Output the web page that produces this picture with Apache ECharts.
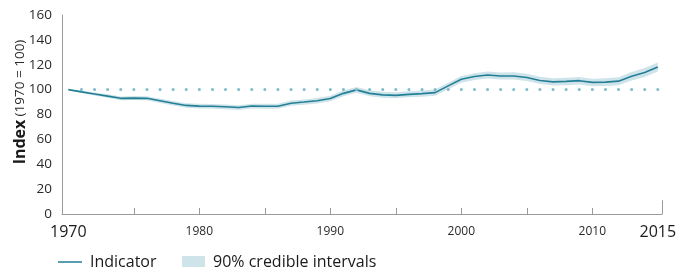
<!DOCTYPE html>
<html>
<head>
<meta charset="utf-8">
<script src="https://cdn.jsdelivr.net/npm/echarts@6/dist/echarts.min.js"></script>
<style>
html,body{margin:0;padding:0;background:#fff;}
#c{width:694px;height:267px;}
</style>
</head>
<body>
<div id="c"></div>
<script>
const years = [1970,1971,1972,1973,1974,1975,1976,1977,1978,1979,1980,1981,1982,1983,1984,1985,1986,1987,1988,1989,1990,1991,1992,1993,1994,1995,1996,1997,1998,1999,2000,2001,2002,2003,2004,2005,2006,2007,2008,2009,2010,2011,2012,2013,2014,2015];
const indicator = [100,98.2,96.5,94.8,93,93.2,93,91,89,87.3,86.7,86.6,86.2,85.6,86.8,86.6,86.6,89.1,90,91,92.8,97,99.8,97,95.8,95.4,96.2,96.8,97.6,103,108.3,110.5,111.8,111,111,109.8,107.4,106.2,106.6,107.2,105.8,106,106.8,110.7,113.7,118.2];
const ciLower = [100,97.2,95.3,93.4,91.5,91.6,91.4,89.3,87.2,85.5,84.8,84.7,84.3,83.7,84.9,84.6,84.6,87,87.9,88.8,90.6,94.7,97.4,94.6,93.4,93,93.8,94.3,95.1,100.4,105.6,107.8,109,108.2,108.1,106.9,104.5,103.3,103.6,104.2,102.8,102.9,103.6,107.3,110.1,114.5];
const ciUpper = [100,99.2,97.7,96.2,94.5,94.8,94.6,92.7,90.8,89.1,88.6,88.5,88.1,87.5,88.7,88.6,88.6,91.2,92.1,93.2,95,99.3,102.2,99.4,98.2,97.8,98.6,99.3,100.1,105.6,111,113.2,114.6,113.8,113.9,112.7,110.3,109.1,109.6,110.2,108.8,109.1,110,114.1,117.3,121.9];
const yTicks = [0,20,40,60,80,100,120,140,160];
const xLabelYears = [1970,1980,1990,2000,2010,2015];
const xTickYears = [1975,1980,1985,1990,1995,2000,2005,2010];
const refLevel = 100;
const legendNames = ['Indicator','90% credible intervals'];

const X_MIN = 1969.52, X_MAX = 2015.32;
const lineColor = '#237f96';
const bandColor = '#cfe4ea';
const fontFam = '"Open Sans","Noto Sans",sans-serif';

const chart = echarts.init(document.getElementById('c'), null, {renderer:'canvas'});
chart.setOption({
  animation:false,
  backgroundColor:'#fff',
  grid:{left:62,right:32,top:15,bottom:53,containLabel:false},
  xAxis:{
    type:'value', min:X_MIN, max:X_MAX,
    axisLine:{show:true,lineStyle:{color:'#9a9a9a',width:1}},
    axisTick:{show:true,inside:true,length:6,customValues:xTickYears,lineStyle:{color:'#9a9a9a'}},
    splitLine:{show:false},
    axisLabel:{
      customValues:xLabelYears, margin:10, fontFamily:fontFam,
      formatter:function(v){return (v===xLabelYears[0]||v===xLabelYears[xLabelYears.length-1])?'{big|'+v+'}':'{small|'+v+'}';},
      rich:{big:{fontSize:16,color:'#1a1a1a',fontFamily:fontFam},small:{fontSize:12,color:'#2a2a2a',fontFamily:fontFam,padding:[2,0,0,0]}}
    }
  },
  yAxis:{
    type:'value', min:0, max:160, interval:20,
    axisLine:{show:true,lineStyle:{color:'#9a9a9a',width:1}},
    axisTick:{show:false},
    splitLine:{show:false},
    axisLabel:{margin:10,fontSize:13.5,color:'#2a2a2a',fontFamily:fontFam,
      customValues:yTicks}
  },
  graphic:[
    {type:'text',x:20,y:102,rotation:Math.PI/2,
     style:{text:'{b|Index} {n|(1970 = 100)}',align:'center',verticalAlign:'middle',
       rich:{b:{fontSize:16,fontWeight:'bold',fill:'#1a1a1a',fontFamily:fontFam},
             n:{fontSize:13.5,fill:'#2a2a2a',fontFamily:fontFam}}}},
    {type:'line',shape:{x1:58,y1:262,x2:82,y2:262},style:{stroke:lineColor,lineWidth:1.5}},
    {type:'text',x:90,y:262,style:{text:legendNames[0],fontSize:16,fill:'#1a1a1a',fontFamily:fontFam,verticalAlign:'middle'}},
    {type:'rect',shape:{x:182,y:256,width:23,height:11},style:{fill:bandColor}},
    {type:'text',x:213,y:262,style:{text:legendNames[1],fontSize:16,fill:'#1a1a1a',fontFamily:fontFam,verticalAlign:'middle'}}
  ],
  series:[
    {type:'custom',name:legendNames[1],silent:true,z:1,
     data:[[years[0],ciLower[0]]],
     renderItem:function(params,api){
       const up = years.map((y,i)=>api.coord([y,ciUpper[i]]));
       const lo = years.map((y,i)=>api.coord([y,ciLower[i]])).reverse();
       return {type:'polygon',shape:{points:up.concat(lo)},style:{fill:bandColor}};
     }},
    {type:'line',name:legendNames[0],data:years.map((y,i)=>[y,indicator[i]]),
     symbol:'none',lineStyle:{color:lineColor,width:1.6},z:3,
     markLine:{silent:true,symbol:'none',label:{show:false},animation:false,
       lineStyle:{color:'#82bccb',type:[0.1,13],cap:'round',width:3},
       data:[
        [{coord:[1971,refLevel]},{coord:[2015,refLevel]}],
       ]}
    },
    {type:'line',name:'endTick',data:[],markLine:{silent:true,symbol:'none',label:{show:false},
      lineStyle:{color:'#9a9a9a',type:'solid',width:1},
      data:[[{coord:[X_MAX,0]},{coord:[X_MAX,11]}]]}}
  ]
});
</script>
</body>
</html>
